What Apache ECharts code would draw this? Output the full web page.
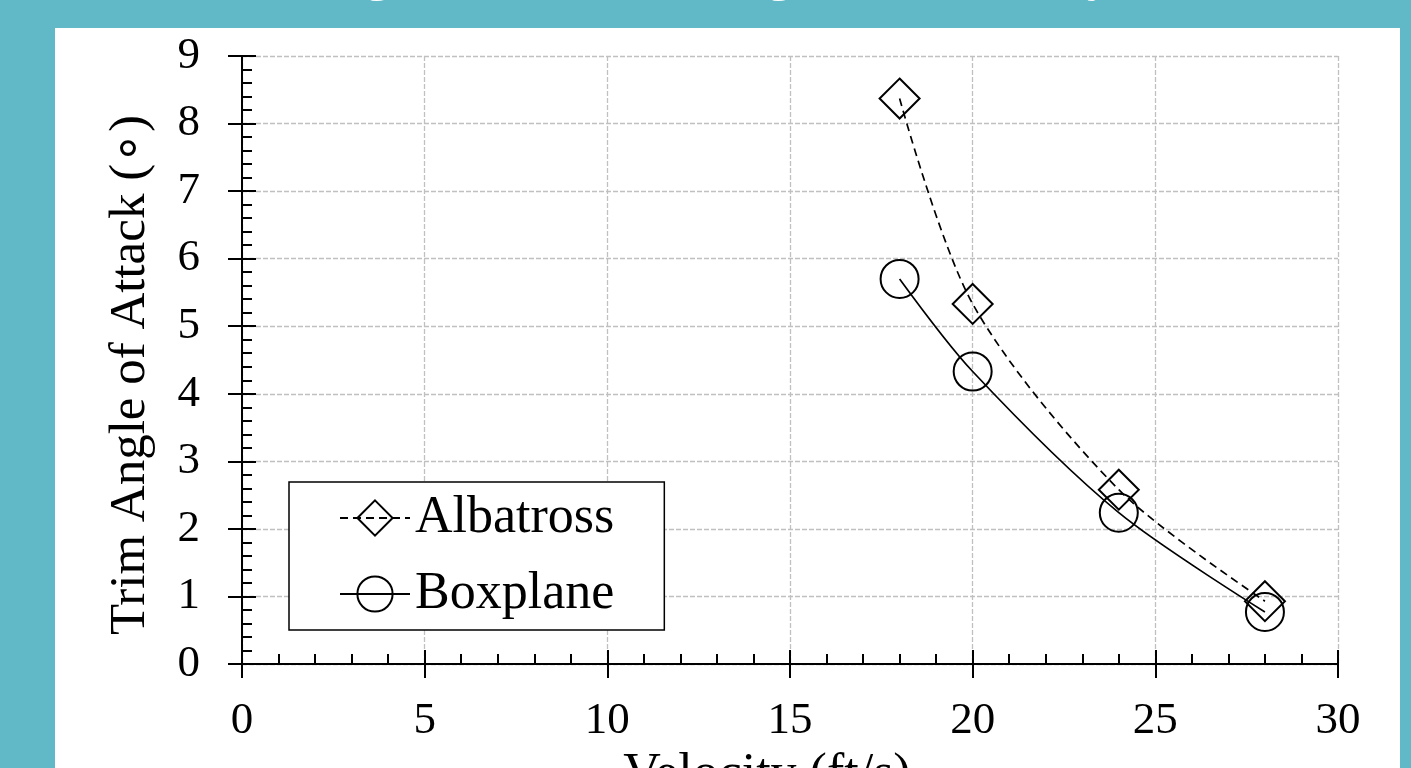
<!DOCTYPE html>
<html>
<head>
<meta charset="utf-8">
<script src="https://cdn.jsdelivr.net/npm/echarts@6/dist/echarts.min.js"></script>
<style>
  html, body { margin: 0; padding: 0; background: #61b8c7; overflow: hidden; }
  #panel { position: absolute; left: 55px; top: 28px; width: 1345px; height: 740px; background: #fff; }
  #chart { position: absolute; left: 0; top: 0; width: 1411px; height: 768px; }
</style>
</head>
<body>
<div id="panel"></div>
<div id="chart"></div>
<script>
// data
const velocity = [18, 20, 24, 28];
const albatross = [8.37, 5.33, 2.58, 0.93];
const boxplane = [5.70, 4.33, 2.24, 0.77];
const seriesNames = ["Albatross", "Boxplane"];
const titleText = "Trim Angle of Attack Change with Velocity";
const xName = "Velocity (ft/s)";
const yName = "Trim Angle of Attack (\u2218)";

const FONT = "Liberation Serif";

function pairs(xs, ys) {
    return xs.map((x, i) => [x, ys[i]]);
}

const chart = echarts.init(document.getElementById("chart"), null, {renderer: "canvas"});

// shared scale settings, second axis of each pair only draws the inner ticks
const xScale = {type: "value", min: 0, max: 30, interval: 5, position: "bottom"};
const yScale = {type: "value", min: 0, max: 9, interval: 1, position: "left"};
const axisLine = {show: true, lineStyle: {color: "#000", width: 2}};
const gridLine = {show: true, lineStyle: {color: "#c0c0c0", width: 1.3, type: [5, 2]}};

const option = {
    animation: false,
    backgroundColor: "transparent",
    title: {
        text: titleText,
        left: 182,
        top: -50,
        padding: 0,
        textStyle: {color: "#fff", fontFamily: FONT, fontSize: 53, fontWeight: "normal"}
    },
    grid: {left: 242, right: 73, top: 56, bottom: 104, containLabel: false, outerBoundsMode: "none"},
    xAxis: [
        Object.assign({}, xScale, {
            name: xName,
            nameLocation: "middle",
            nameGap: 69,
            nameTextStyle: {fontFamily: FONT, fontSize: 52, color: "#000", padding: [0, 46, 0, 0]},
            axisLine: axisLine,
            axisTick: {show: true, inside: false, length: 14, lineStyle: {color: "#000", width: 2}},
            axisLabel: {margin: 35, fontFamily: FONT, fontSize: 45, color: "#000"},
            splitLine: gridLine
        }),
        Object.assign({}, xScale, {
            axisLine: axisLine,
            axisTick: {show: true, inside: true, length: 14, lineStyle: {color: "#000", width: 2}},
            minorTick: {show: true, splitNumber: 5, length: 10, lineStyle: {color: "#000", width: 2}},
            axisLabel: {show: false},
            splitLine: {show: false}
        })
    ],
    yAxis: [
        Object.assign({}, yScale, {
            name: yName,
            nameLocation: "middle",
            nameGap: 86,
            nameTextStyle: {fontFamily: FONT, fontSize: 51, color: "#000", padding: [0, 30, 0, 0]},
            axisLine: axisLine,
            axisTick: {show: true, inside: false, length: 14, lineStyle: {color: "#000", width: 2}},
            axisLabel: {margin: 42, fontFamily: FONT, fontSize: 45, color: "#000"},
            splitLine: gridLine
        }),
        Object.assign({}, yScale, {
            axisLine: axisLine,
            axisTick: {show: true, inside: true, length: 14, lineStyle: {color: "#000", width: 2}},
            minorTick: {show: true, splitNumber: 5, length: 10, lineStyle: {color: "#000", width: 2}},
            axisLabel: {show: false},
            splitLine: {show: false}
        })
    ],
    legend: {
        orient: "vertical",
        left: 289,
        top: 482,
        padding: [10, 50, 10, 50],
        itemGap: 24,
        itemWidth: 70,
        itemHeight: 44,
        backgroundColor: "#fff",
        borderColor: "#000",
        borderWidth: 1.5,
        borderRadius: 0,
        textStyle: {fontFamily: FONT, fontSize: 52, color: "#000"},
        data: seriesNames
    },
    series: [
        {
            name: seriesNames[0],
            type: "line",
            data: pairs(velocity, albatross),
            smooth: 0.3,
            symbol: "diamond",
            symbolSize: 40,
            itemStyle: {color: "rgba(0,0,0,0)", borderColor: "#000", borderWidth: 2},
            lineStyle: {color: "#000", width: 1.7, type: [8, 5]},
            emphasis: {disabled: true}
        },
        {
            name: seriesNames[1],
            type: "line",
            data: pairs(velocity, boxplane),
            smooth: 0.3,
            symbol: "circle",
            symbolSize: 38,
            itemStyle: {color: "rgba(0,0,0,0)", borderColor: "#000", borderWidth: 2},
            lineStyle: {color: "#000", width: 1.7, type: "solid"},
            emphasis: {disabled: true}
        }
    ]
};

chart.setOption(option);
</script>
</body>
</html>
